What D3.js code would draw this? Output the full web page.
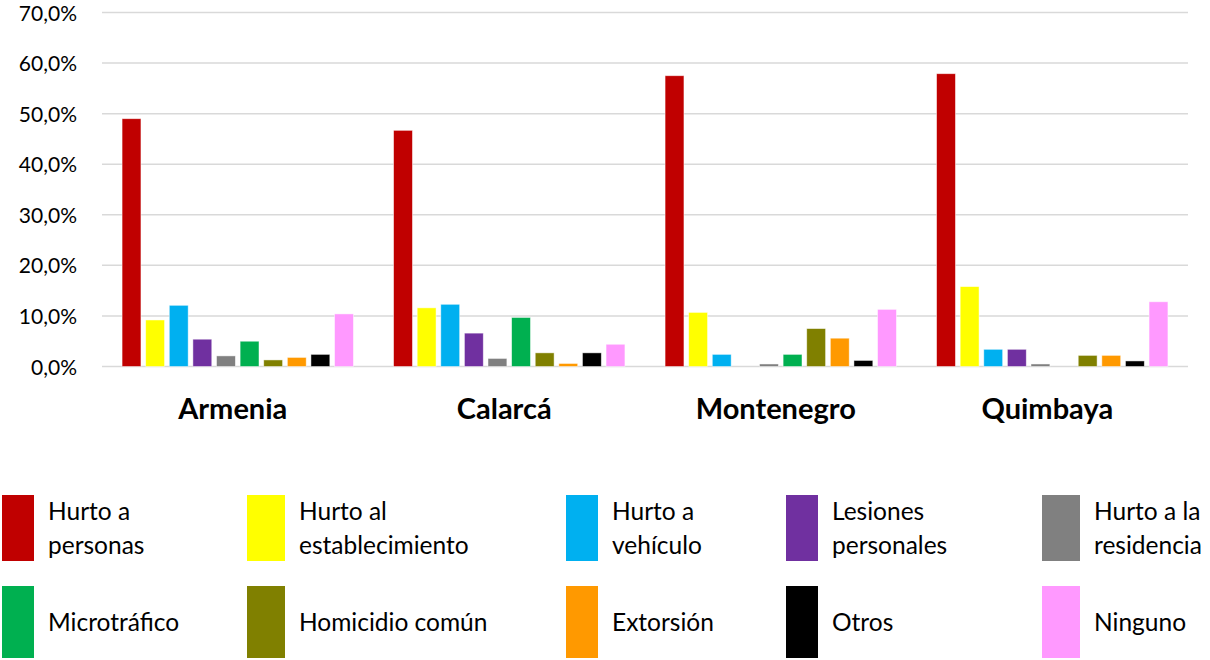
<!DOCTYPE html>
<html>
<head>
<meta charset="utf-8">
<script src="https://cdn.jsdelivr.net/npm/d3@7"></script>
<style>
  body { margin: 0; background: #fff; }
  svg { display: block; font-family: Lato, "Open Sans", sans-serif; }
</style>
</head>
<body>
<svg id="chart" width="1210" height="660"></svg>
<script>
const categories = ["Armenia", "Calarcá", "Montenegro", "Quimbaya"];
const seriesNames = [
  "Hurto a personas", "Hurto al establecimiento", "Hurto a vehículo",
  "Lesiones personales", "Hurto a la residencia", "Microtráfico",
  "Homicidio común", "Extorsión", "Otros", "Ninguno"
];
const legendLines = [
  ["Hurto a", "personas"], ["Hurto al", "establecimiento"], ["Hurto a", "vehículo"],
  ["Lesiones", "personales"], ["Hurto a la", "residencia"], ["Microtráfico"],
  ["Homicidio común"], ["Extorsión"], ["Otros"], ["Ninguno"]
];
const seriesColors = [
  "#C00000", "#FFFF00", "#00B0F0", "#7030A0", "#808080",
  "#00B050", "#808000", "#FF9900", "#000000", "#FF99FF"
];
// values in % per category, in series order
const armenia    = [49.0, 9.2, 12.1, 5.4, 2.1, 5.0, 1.3, 1.8, 2.4, 10.4];
const calarca    = [46.7, 11.6, 12.3, 6.6, 1.6, 9.7, 2.7, 0.6, 2.7, 4.4];
const montenegro = [57.5, 10.7, 2.4, 0.0, 0.5, 2.4, 7.5, 5.6, 1.2, 11.3];
const quimbaya   = [57.9, 15.8, 3.4, 3.4, 0.5, 0.0, 2.2, 2.2, 1.1, 12.8];
const valuesByCategory = [armenia, calarca, montenegro, quimbaya];
const yTicks = [0, 10, 20, 30, 40, 50, 60, 70];

// layout
const plot = { left: 102, right: 1188, top: 12.5, bottom: 366.5 };
const legendCols = [2, 247, 566, 786, 1042];
const legendSwatchW = [32, 38, 32, 32, 38];
const legendTextGap = 14;
const legendRows = [{ y: 495, h: 66 }, { y: 586, h: 72 }];

const svg = d3.select("#chart");

const y = d3.scaleLinear().domain([0, 70]).range([plot.bottom, plot.top]);
const x0 = d3.scaleBand().domain(categories).range([plot.left, plot.right]).padding(0);
const x1 = d3.scaleBand().domain(seriesNames).range([0, x0.bandwidth()])
  .paddingInner(0.2).paddingOuter(0.85);
const color = d3.scaleOrdinal().domain(seriesNames).range(seriesColors);

// gridlines
svg.append("g").selectAll("line").data(yTicks).join("line")
  .attr("x1", plot.left).attr("x2", plot.right)
  .attr("y1", d => y(d)).attr("y2", d => y(d))
  .attr("stroke", "#d9d9d9").attr("stroke-width", 1.5);

// y axis labels
const yAxis = d3.axisLeft(y).tickValues(yTicks).tickSize(0).tickPadding(0)
  .tickFormat(d => d3.format(".1f")(d).replace(".", ",") + "%");
const yg = svg.append("g").attr("transform", `translate(${plot.left - 25},0)`).call(yAxis);
yg.select(".domain").remove();
yg.selectAll("text").attr("font-size", 21).attr("fill", "#000")
  .attr("font-family", "Lato, 'Open Sans', sans-serif").attr("dy", "0.36em");

// bars
const groups = svg.append("g").selectAll("g").data(categories).join("g")
  .attr("transform", d => `translate(${x0(d)},0)`);
groups.selectAll("rect")
  .data((c, i) => seriesNames.map((s, j) => ({ s, v: valuesByCategory[i][j] })))
  .join("rect")
  .attr("x", d => x1(d.s))
  .attr("width", x1.bandwidth())
  .attr("y", d => y(d.v))
  .attr("height", d => y(0) - y(d.v))
  .attr("fill", d => color(d.s))
  .attr("stroke", d => d.v > 0 ? "rgba(255,255,255,0.6)" : "none")
  .attr("stroke-width", 0.8);

// category labels
const xAxis = d3.axisBottom(x0).tickSize(0).tickPadding(0);
const xg = svg.append("g").attr("transform", `translate(-5,${plot.bottom + 52})`).call(xAxis);
xg.select(".domain").remove();
xg.selectAll("text").attr("font-size", 29).attr("font-weight", "bold").attr("fill", "#000")
  .attr("font-family", "Lato, 'Open Sans', sans-serif").attr("dy", "0");

// legend
const leg = svg.append("g");
seriesNames.forEach((s, i) => {
  const col = i % 5, row = Math.floor(i / 5);
  const r = legendRows[row];
  const sx = legendCols[col];
  const sw = legendSwatchW[col];
  leg.append("rect").attr("x", sx).attr("y", r.y).attr("width", sw).attr("height", r.h)
    .attr("fill", color(s));
  const lines = legendLines[i];
  const cy = r.y + r.h / 2;
  const lh = 34;
  const t = leg.append("text").attr("x", sx + sw + legendTextGap)
    .attr("font-size", 24.5).attr("fill", "#000");
  lines.forEach((ln, k) => {
    t.append("tspan").attr("x", sx + sw + legendTextGap)
      .attr("y", cy + (k - (lines.length - 1) / 2) * lh)
      .attr("dy", "0.35em").text(ln);
  });
});
</script>
</body>
</html>
